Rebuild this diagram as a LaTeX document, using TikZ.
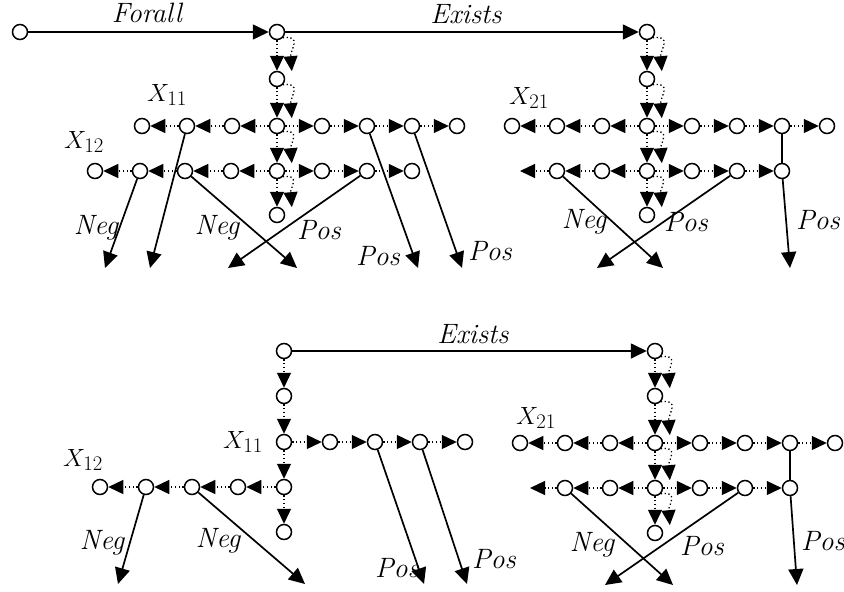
\documentclass[tikz,border=0pt]{standalone}
\usepackage{fontspec}
\usetikzlibrary{arrows.meta}
\begin{document}
\begin{tikzpicture}[x=1pt,y=-1pt,
  vtx/.style={draw,circle,line width=1.5pt,minimum size=15pt,inner sep=0pt,fill=white},
  arr/.style={line width=1.7pt,-{Triangle[length=16pt,width=15pt]}},
  dotarr/.style={line width=1.3pt,dash pattern=on 1.3pt off 2.5pt,-{Triangle[length=15pt,width=14pt]}},
  bendarr/.style={dotarr,out=10,in=95,looseness=1.5},
  lbl/.style={font=\fontsize{28}{32}\selectfont\itshape,inner sep=0pt}]
\useasboundingbox (0,0) rectangle (844,592);
% upper diagram, left part
\node[vtx] (s) at (20,32) {};
\node[vtx] (c0) at (277,32) {};
\node[vtx] (c1) at (277,79) {};
\node[vtx] (c4) at (277,215) {};
\foreach \n/\x in {1/142,2/187,3/232,4/277,5/322,6/367,7/412,8/457}
  \node[vtx] (a\n) at (\x,126) {};
\foreach \n/\x in {1/95,2/140,3/185,4/231,5/277,6/322,7/367,8/412}
  \node[vtx] (b\n) at (\x,171) {};
\foreach \u/\v in {c0/c1,c1/a4,a4/b5,b5/c4}{
  \draw[dotarr] (\u) -- (\v);
  \draw[bendarr] (\u.south east) to ([xshift=9pt,yshift=2pt]\v.north east);
}
\foreach \u/\v in {a4/a3,a3/a2,a2/a1,a4/a5,a5/a6,a6/a7,a7/a8,b5/b4,b4/b3,b3/b2,b2/b1,b5/b6,b6/b7,b7/b8}
  \draw[dotarr] (\u) -- (\v);
\coordinate (p1) at (105,268);
\coordinate (p2) at (150,268);
\coordinate (p3) at (297,268);
\coordinate (p4) at (228,268);
\coordinate (p5) at (418,268);
\coordinate (p6) at (462,268);
\draw[arr] (b2) -- (p1);
\draw[arr] (a2) -- (p2);
\draw[arr] (b3) -- (p3);
\draw[arr] (b7) -- (p4);
\draw[arr] (a6) -- (p5);
\draw[arr] (a7) -- (p6);
\node[lbl] (forall) at (147,13) {Forall};
\node[lbl] (x11) at (167,95) {$X_{11}$};
\node[lbl] (x12) at (84,142) {$X_{12}$};
\node[lbl] (neg1) at (96,228) {Neg};
\node[lbl] (neg2) at (217,228) {Neg};
\node[lbl] (pos1) at (319,230) {Pos};
\node[lbl] (pos2) at (378,256) {Pos};
\node[lbl] (pos3) at (490,251) {Pos};
% upper diagram, right part
\node[vtx] (d0) at (647,32) {};
\node[vtx] (d1) at (647,79) {};
\node[vtx] (d4) at (647,215) {};
\foreach \n/\x in {1/512,2/557,3/602,4/647,5/692,6/737,7/782,8/827}
  \node[vtx] (e\n) at (\x,126) {};
\foreach \n/\x in {1/557,2/602,3/647,4/692,5/737,6/782}
  \node[vtx] (f\n) at (\x,171) {};
\coordinate (f0) at (520,171);
\foreach \u/\v in {d0/d1,d1/e4,e4/f3,f3/d4}{
  \draw[dotarr] (\u) -- (\v);
  \draw[bendarr] (\u.south east) to ([xshift=9pt,yshift=2pt]\v.north east);
}
\foreach \u/\v in {e4/e3,e3/e2,e2/e1,e4/e5,e5/e6,e6/e7,e7/e8,f3/f2,f2/f1,f1/f0,f3/f4,f4/f5,f5/f6}
  \draw[dotarr] (\u) -- (\v);
\draw[arr] (s) -- (c0);
\draw[arr] (c0) -- (d0);
\coordinate (q1) at (663,268);
\coordinate (q2) at (597,268);
\coordinate (q3) at (790,268);
\draw[arr] (f1) -- (q1);
\draw[arr] (f5) -- (q2);
\draw[line width=1.7pt] (e7) -- (f6);
\draw[arr] (f6) -- (q3);
\node[lbl] (exists1) at (466,14) {Exists};
\node[lbl] (x21) at (529,98) {$X_{21}$};
\node[lbl] (neg3) at (584,222) {Neg};
\node[lbl] (pos4) at (686,222) {Pos};
\node[lbl] (pos5) at (818,220) {Pos};
% lower diagram, left part
\node[vtx] (g0) at (284,351) {};
\node[vtx] (g1) at (284,396) {};
\node[vtx] (g4) at (284,532) {};
\foreach \n/\x in {1/284,2/330,3/375,4/420,5/465}
  \node[vtx] (h\n) at (\x,442) {};
\foreach \n/\x in {1/100,2/146,3/192,4/238,5/284}
  \node[vtx] (i\n) at (\x,487) {};
\foreach \u/\v in {g0/g1,g1/h1,h1/i5,i5/g4,h1/h2,h2/h3,h3/h4,h4/h5,i5/i4,i4/i3,i3/i2,i2/i1}
  \draw[dotarr] (\u) -- (\v);
\coordinate (r1) at (118,584);
\coordinate (r2) at (305,584);
\coordinate (r3) at (424,584);
\coordinate (r4) at (467,584);
\draw[arr] (i2) -- (r1);
\draw[arr] (i3) -- (r2);
\draw[arr] (h3) -- (r3);
\draw[arr] (h4) -- (r4);
\node[lbl] (x11b) at (243,442) {$X_{11}$};
\node[lbl] (x12b) at (83,460) {$X_{12}$};
\node[lbl] (neg4) at (102,543) {Neg};
\node[lbl] (neg5) at (218,541) {Neg};
\node[lbl] (pos6) at (397,568) {Pos};
\node[lbl] (pos7) at (494,559) {Pos};
% lower diagram, right part
\node[vtx] (j0) at (655,351) {};
\node[vtx] (j1) at (655,396) {};
\node[vtx] (j4) at (655,533) {};
\foreach \n/\x in {1/520,2/565,3/610,4/655,5/700,6/745,7/790,8/835}
  \node[vtx] (k\n) at (\x,443) {};
\foreach \n/\x in {1/565,2/610,3/655,4/700,5/745,6/790}
  \node[vtx] (l\n) at (\x,488) {};
\coordinate (l0) at (530,488);
\foreach \u/\v in {j0/j1,j1/k4,k4/l3,l3/j4}{
  \draw[dotarr] (\u) -- (\v);
  \draw[bendarr] (\u.south east) to ([xshift=9pt,yshift=2pt]\v.north east);
}
\foreach \u/\v in {k4/k3,k3/k2,k2/k1,k4/k5,k5/k6,k6/k7,k7/k8,l3/l2,l2/l1,l1/l0,l3/l4,l4/l5,l5/l6}
  \draw[dotarr] (\u) -- (\v);
\draw[arr] (g0) -- (j0);
\coordinate (u1) at (673,585);
\coordinate (u2) at (605,585);
\coordinate (u3) at (797,585);
\draw[arr] (l1) -- (u1);
\draw[arr] (l5) -- (u2);
\draw[line width=1.7pt] (k7) -- (l6);
\draw[arr] (l6) -- (u3);
\node[lbl] (exists2) at (473,334) {Exists};
\node[lbl] (x21b) at (536,418) {$X_{21}$};
\node[lbl] (neg6) at (592,545) {Neg};
\node[lbl] (pos8) at (702,546) {Pos};
\node[lbl] (pos9) at (823,541) {Pos};
\end{tikzpicture}
\end{document}
